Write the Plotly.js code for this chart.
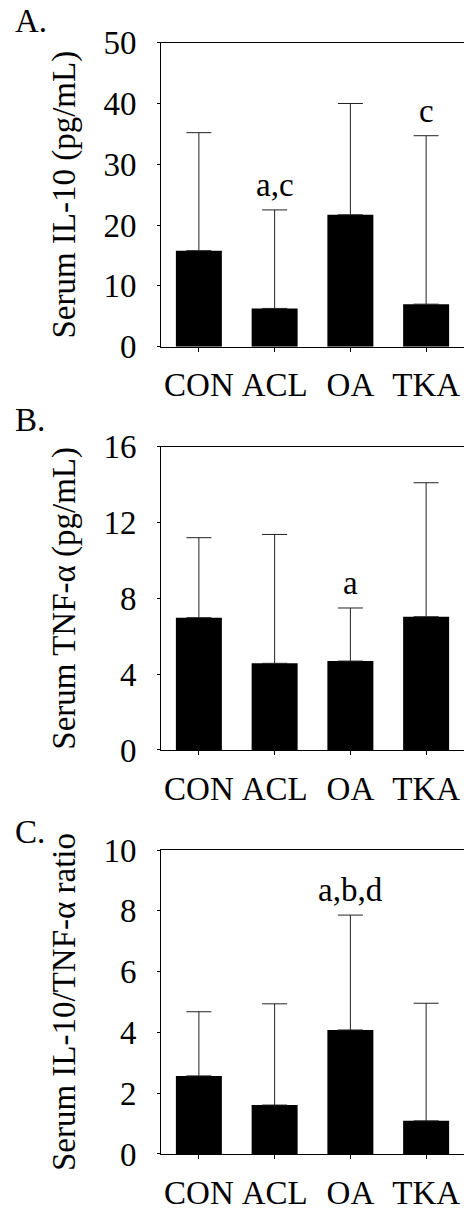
<!DOCTYPE html>
<html><head><meta charset="utf-8">
<script src="https://cdn.plot.ly/plotly-3.0.1.min.js"></script>
<style>html,body{margin:0;padding:0;background:#fff}</style>
</head><body><div id="chart" style="width:464px;height:1209px"></div>
<script>
const categories = ['CON', 'ACL', 'OA', 'TKA'];
const il10Mean = [15.8, 6.3, 21.7, 7.0];
const il10Upper = [35.2, 22.5, 40.0, 34.7];
const il10Letters = ['', 'a,c', '', 'c'];
const tnfMean = [6.98, 4.57, 4.69, 7.03];
const tnfUpper = [11.2, 11.37, 7.49, 14.1];
const tnfLetters = ['', '', 'a', ''];
const ratioMean = [2.57, 1.61, 4.08, 1.09];
const ratioUpper = [4.68, 4.94, 7.86, 4.96];
const ratioLetters = ['', '', 'a,b,d', ''];
const panelLabels = ['A.', 'B.', 'C.'];
const yTitles = ['Serum IL-10 (pg/mL)', 'Serum TNF-\u03b1 (pg/mL)', 'Serum IL-10/TNF-\u03b1 ratio'];

const FONT = "'Liberation Serif', 'Times New Roman', Times, serif";
const FS = 33;

const panels = [
  {mean: il10Mean, upper: il10Upper, letters: il10Letters, range: [0, 50], dtick: 10, domain: [0.7132, 0.9647]},
  {mean: tnfMean, upper: tnfUpper, letters: tnfLetters, range: [0, 16], dtick: 4, domain: [0.3797, 0.6305]},
  {mean: ratioMean, upper: ratioUpper, letters: ratioLetters, range: [0, 10], dtick: 2, domain: [0.0455, 0.2969]}
];
const labelY = [21, 420, 832];

const data = [];
const layout = {
  width: 464, height: 1209,
  margin: {l: 161, r: 0, t: 0, b: 0},
  paper_bgcolor: '#fff', plot_bgcolor: '#fff',
  showlegend: false,
  font: {family: FONT, size: FS, color: '#000'},
  annotations: []
};

panels.forEach((p, i) => {
  const n = i === 0 ? '' : String(i + 1);
  data.push({
    type: 'bar', x: categories, y: p.mean,
    xaxis: 'x' + n, yaxis: 'y' + n,
    width: 0.607,
    marker: {color: '#000', line: {width: 0}},
    error_y: {
      type: 'data', symmetric: false,
      array: p.upper.map((u, k) => u - p.mean[k]),
      arrayminus: p.mean.map(() => 0),
      color: '#222', thickness: 1, width: 12.5
    },
    hoverinfo: 'skip'
  });
  layout['xaxis' + n] = {
    anchor: 'y' + n, domain: [0, 1],
    type: 'category', range: [-0.5, 3.5],
    showline: true, mirror: true, linecolor: '#000', linewidth: 1,
    ticks: 'outside', ticklen: 4, tickcolor: '#000', tickwidth: 1,
    tickfont: {family: FONT, size: FS, color: '#000'},
    ticklabelstandoff: 5,
    showgrid: false, zeroline: false, fixedrange: true
  };
  layout['yaxis' + n] = {
    anchor: 'x' + n, domain: p.domain,
    range: p.range, dtick: p.dtick, tick0: 0,
    showline: true, linecolor: '#000', linewidth: 1,
    ticks: 'outside', ticklen: 3, tickcolor: '#000', tickwidth: 1,
    tickfont: {family: FONT, size: FS, color: '#000'},
    ticklabelstandoff: 14,
    showgrid: false, zeroline: false, fixedrange: true,
    title: {text: yTitles[i], font: {family: FONT, size: FS, color: '#000'}, standoff: 17}
  };
  p.letters.forEach((t, k) => {
    if (!t) return;
    layout.annotations.push({
      xref: 'x' + n, yref: 'y' + n, x: categories[k], y: p.upper[k],
      text: t, showarrow: false, yanchor: 'middle', yshift: 25,
      font: {family: FONT, size: FS, color: '#000'}
    });
  });
  layout.annotations.push({
    xref: 'paper', yref: 'paper', x: (13 - 161) / 303, y: 1 - labelY[i] / 1209,
    xanchor: 'left', yanchor: 'middle', text: panelLabels[i], showarrow: false,
    font: {family: FONT, size: FS, color: '#000'}
  });
});

Plotly.newPlot('chart', data, layout, {staticPlot: true, displayModeBar: false});
</script>
</body></html>
